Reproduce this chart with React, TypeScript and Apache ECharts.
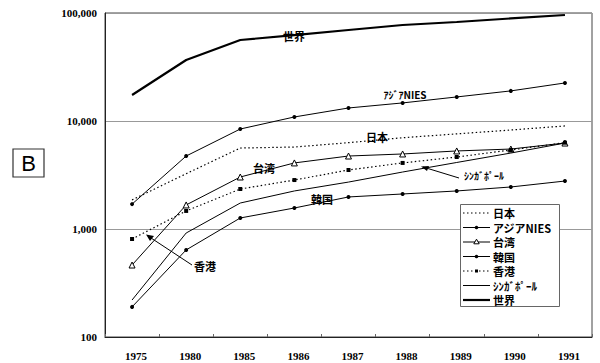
import React, { useEffect, useRef } from "react";
import * as echarts from "echarts";

const years = ["1975", "1980", "1985", "1986", "1987", "1988", "1989", "1990", "1991"];
const japan = [1860, 3250, 5620, 5740, 6300, 7000, 7600, 8250, 9000];
const nies = [1700, 4740, 8430, 10900, 13200, 14700, 16700, 19000, 22500];
const taiwan = [464, 1670, 3030, 4090, 4740, 4950, 5280, 5500, 6250];
const korea = [190, 640, 1265, 1565, 1980, 2110, 2250, 2450, 2780];
const hongkong = [808, 1470, 2345, 2840, 3520, 4090, 4640, 5390, 6300];
const singapore = [220, 918, 1740, 2250, 2720, 3370, 4130, 5050, 6250];
const world = [17400, 36700, 56200, 62500, 69600, 77400, 82500, 89000, 95800];
const seriesNames = ["日本", "アジアNIES", "台湾", "韓国", "香港", "ｼﾝｶﾞﾎﾟｰﾙ", "世界"];

const serif = "'Liberation Serif', 'DejaVu Serif', serif";
const jp = "'Noto Sans CJK JP', sans-serif";

export default function App() {
  const ref = useRef<HTMLDivElement>(null);
  useEffect(() => {
    if (!ref.current) return;
    const chart = echarts.init(ref.current, null, { renderer: "svg" });
    const base = { type: "line", animation: false, silent: true };
    const dotted = [1.5, 2.5];
    const lineBlack = (w: number, t: any = "solid") => ({ color: "#000", width: w, type: t });

    const samples: { w: number; dash: any; marker: string | null }[] = [
      { w: 1.2, dash: dotted, marker: null },
      { w: 1, dash: null, marker: "dot" },
      { w: 1, dash: null, marker: "tri" },
      { w: 1, dash: null, marker: "dot" },
      { w: 1.2, dash: dotted, marker: "sq" },
      { w: 1, dash: null, marker: null },
      { w: 2.2, dash: null, marker: null },
    ];
    const legendGraphics: any[] = [
      { type: "rect", z: 199, shape: { x: 460.5, y: 204.5, width: 99, height: 102 }, style: { fill: "#fff", stroke: "#666", lineWidth: 1 } },
    ];
    samples.forEach((s, i) => {
      const cy = 213 + i * 14.5;
      legendGraphics.push({
        type: "line", z: 200,
        shape: { x1: 463, y1: cy, x2: 490, y2: cy },
        style: { stroke: "#000", lineWidth: s.w, lineDash: s.dash || undefined },
      });
      if (s.marker === "dot") {
        legendGraphics.push({ type: "circle", z: 201, shape: { cx: 476.5, cy, r: 1.8 }, style: { fill: "#000" } });
      } else if (s.marker === "sq") {
        legendGraphics.push({ type: "rect", z: 201, shape: { x: 475, y: cy - 1.5, width: 3, height: 3 }, style: { fill: "#000" } });
      } else if (s.marker === "tri") {
        legendGraphics.push({ type: "polygon", z: 201, shape: { points: [[476.5, cy - 2.8], [479.2, cy + 1.8], [473.8, cy + 1.8]] }, style: { fill: "#fff", stroke: "#000", lineWidth: 1 } });
      }
      legendGraphics.push({
        type: "text", z: 201, x: 493, y: cy,
        style: { text: seriesNames[i], fill: "#000", font: `bold 11px ${jp}`, lineHeight: 12, align: "left", verticalAlign: "middle" },
      });
    });

    chart.setOption({
      animation: false,
      backgroundColor: "#fff",
      grid: { left: 105, right: 8, top: 13, bottom: 26, show: true, borderColor: "#444", borderWidth: 1 },
      xAxis: {
        type: "category",
        data: years,
        boundaryGap: true,
        axisLine: { lineStyle: { color: "#222", width: 1 } },
        axisTick: { show: true, inside: true, length: 3, lineStyle: { color: "#666" } },
        axisLabel: { color: "#000", fontFamily: serif, fontWeight: "bold", fontSize: 11, margin: 13, padding: [0, 0, 0, 8] },
      },
      yAxis: {
        type: "log",
        logBase: 10,
        min: 100,
        max: 100000,
        axisLine: { show: true, lineStyle: { color: "#222" } },
        axisTick: { show: false },
        minorTick: { show: false },
        splitLine: { show: true, lineStyle: { color: "#999", width: 1 } },
        axisLabel: {
          color: "#000", fontFamily: serif, fontWeight: "bold", fontSize: 11, margin: 8,
          formatter: (v: number) => Math.round(v).toLocaleString("en-US"),
        },
      },
      series: [
        { ...base, name: seriesNames[0], data: japan, symbol: "none", lineStyle: lineBlack(1.2, dotted), itemStyle: { color: "#000" } },
        { ...base, name: seriesNames[1], data: nies, symbol: "circle", symbolSize: 4, lineStyle: lineBlack(1), itemStyle: { color: "#000" } },
        { ...base, name: seriesNames[2], data: taiwan, symbol: "triangle", symbolSize: 6, lineStyle: lineBlack(1), itemStyle: { color: "#fff", borderColor: "#000", borderWidth: 1 } },
        { ...base, name: seriesNames[3], data: korea, symbol: "circle", symbolSize: 4, lineStyle: lineBlack(1), itemStyle: { color: "#000" } },
        { ...base, name: seriesNames[4], data: hongkong, symbol: "rect", symbolSize: 4, lineStyle: lineBlack(1.2, dotted), itemStyle: { color: "#000" } },
        { ...base, name: seriesNames[5], data: singapore, symbol: "none", lineStyle: lineBlack(1), itemStyle: { color: "#000" } },
        { ...base, name: seriesNames[6], data: world, symbol: "none", lineStyle: lineBlack(2.2), itemStyle: { color: "#000" } },
      ],
      graphic: [
        { type: "rect", shape: { x: 13, y: 149, width: 31, height: 28 }, style: { fill: "#fff", stroke: "#333", lineWidth: 1.2 } },
        { type: "text", x: 28.5, y: 163, style: { text: "B", fill: "#000", font: "22px 'Liberation Sans', sans-serif", align: "center", verticalAlign: "middle" } },
        { type: "text", x: 294, y: 36, style: { text: "世界", fill: "#000", font: `bold 11px ${jp}`, align: "center", verticalAlign: "middle" } },
        { type: "text", x: 405, y: 94, style: { text: "ｱｼﾞｱNIES", fill: "#000", font: `bold 10px ${jp}`, align: "center", verticalAlign: "middle" } },
        { type: "text", x: 377, y: 137, style: { text: "日本", fill: "#000", font: `bold 11px ${jp}`, align: "center", verticalAlign: "middle" } },
        { type: "text", x: 264, y: 168, style: { text: "台湾", fill: "#000", font: `bold 11px ${jp}`, align: "center", verticalAlign: "middle" } },
        { type: "text", x: 322, y: 199, style: { text: "韓国", fill: "#000", font: `bold 11px ${jp}`, align: "center", verticalAlign: "middle" } },
        { type: "text", x: 484, y: 175, style: { text: "ｼﾝｶﾞﾎﾟｰﾙ", fill: "#000", font: `bold 10px ${jp}`, align: "center", verticalAlign: "middle" } },
        { type: "text", x: 205, y: 266, style: { text: "香港", fill: "#000", font: `bold 11px ${jp}`, align: "center", verticalAlign: "middle" } },
        { type: "line", shape: { x1: 459, y1: 178, x2: 423, y2: 167 }, style: { stroke: "#000", lineWidth: 1 } },
        { type: "polygon", shape: { points: [[421, 166.5], [429, 166], [427, 171]] }, style: { fill: "#000" } },
        { type: "line", shape: { x1: 192, y1: 265, x2: 148, y2: 236 }, style: { stroke: "#000", lineWidth: 1 } },
        { type: "polygon", shape: { points: [[146, 234.5], [154, 236], [150, 241]] }, style: { fill: "#000" } },
        ...legendGraphics,
      ],
    });
    return () => chart.dispose();
  }, []);
  return <div ref={ref} style={{ width: 600, height: 363, position: "absolute", left: 0, top: 0 }} />;
}
